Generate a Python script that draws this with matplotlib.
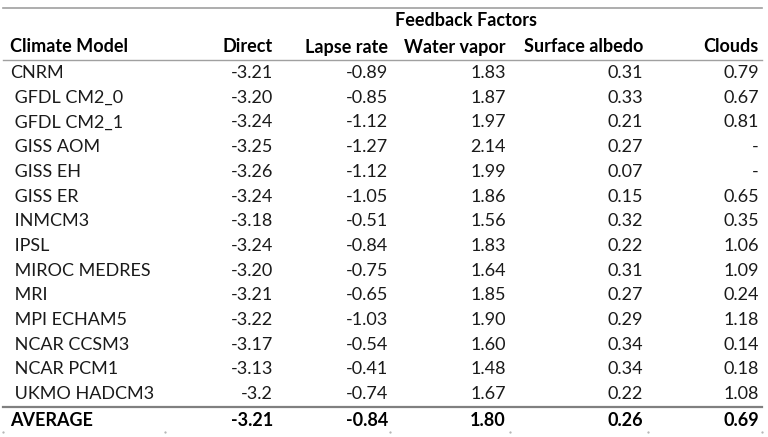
import matplotlib
matplotlib.use('Agg')
import matplotlib.pyplot as plt

models = ['CNRM', ' GFDL CM2_0', ' GFDL CM2_1', ' GISS AOM', ' GISS EH', ' GISS ER',
          ' INMCM3', ' IPSL', ' MIROC MEDRES', ' MRI', ' MPI ECHAM5', ' NCAR CCSM3',
          ' NCAR PCM1', ' UKMO HADCM3']
columns = ['Direct', 'Lapse rate', 'Water vapor', 'Surface albedo', 'Clouds']
direct = ['-3.21', '-3.20', '-3.24', '-3.25', '-3.26', '-3.24', '-3.18', '-3.24',
          '-3.20', '-3.21', '-3.22', '-3.17', '-3.13', '-3.2']
lapse_rate = ['-0.89', '-0.85', '-1.12', '-1.27', '-1.12', '-1.05', '-0.51', '-0.84',
              '-0.75', '-0.65', '-1.03', '-0.54', '-0.41', '-0.74']
water_vapor = ['1.83', '1.87', '1.97', '2.14', '1.99', '1.86', '1.56', '1.83',
               '1.64', '1.85', '1.90', '1.60', '1.48', '1.67']
surface_albedo = ['0.31', '0.33', '0.21', '0.27', '0.07', '0.15', '0.32', '0.22',
                  '0.31', '0.27', '0.29', '0.34', '0.34', '0.22']
clouds = ['0.79', '0.67', '0.81', '-', '-', '0.65', '0.35', '1.06',
          '1.09', '0.24', '1.18', '0.14', '0.18', '1.08']
average = ['-3.21', '-0.84', '1.80', '0.26', '0.69']

plt.rcParams['font.family'] = ['Lato', 'DejaVu Sans']

fig = plt.figure(figsize=(7.68, 4.37), dpi=100)
ax = fig.add_axes([0, 0, 1, 1])
ax.set_xlim(0, 768)
ax.set_ylim(437, 0)
ax.axis('off')

fs = 13
col_right = [273, 388, 506, 643, 759]
row0, dy = 73, 24.7
series = [direct, lapse_rate, water_vapor, surface_albedo, clouds]

# rules
ax.plot([3, 762], [8, 8], color='#a0a0a0', lw=1.2)
ax.plot([3, 762], [60, 60], color='#a0a0a0', lw=1.0)
ax.plot([3, 762], [407, 407], color='#808080', lw=1.6)
for x in [3, 165, 390, 510, 648, 762]:
    ax.plot([x], [432], marker='.', ms=1.2, color='#b0b0b0')

ax.text(466, 21, 'Feedback Factors', ha='center', va='center', fontsize=fs, fontweight='bold')
ax.text(10, 47, 'Climate Model', ha='left', va='center', fontsize=fs, fontweight='bold')
for x, c in zip(col_right, columns):
    ax.text(x, 47, c, ha='right', va='center', fontsize=fs, fontweight='bold')

for i, m in enumerate(models):
    y = row0 + i * dy
    ax.text(10, y, m, ha='left', va='center', fontsize=fs, color='#1a1a1a')
    for x, s in zip(col_right, series):
        ax.text(x, y, s[i], ha='right', va='center', fontsize=fs, color='#1a1a1a')

y = 420
ax.text(10, y, 'AVERAGE', ha='left', va='center', fontsize=fs, fontweight='bold')
for x, v in zip(col_right, average):
    ax.text(x, y, v, ha='right', va='center', fontsize=fs, fontweight='bold')

fig.savefig('out.png', dpi=100)
